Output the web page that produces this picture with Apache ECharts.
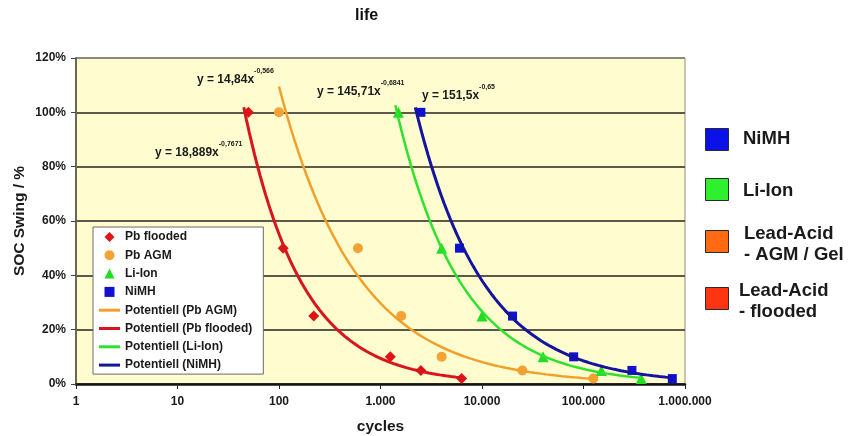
<!DOCTYPE html>
<html>
<head>
<meta charset="utf-8">
<script src="https://cdn.jsdelivr.net/npm/echarts@6/dist/echarts.min.js"></script>
<style>
  html, body { margin: 0; padding: 0; background: #ffffff; }
  #chart { width: 850px; height: 436px; }
</style>
</head>
<body>
<div id="chart"></div>
<script>
// Cycle life vs. depth of discharge (SOC swing) for four battery chemistries
const socSwing      = [1.00, 0.50, 0.25, 0.10, 0.05, 0.02];
const floodedCycles = [50, 110, 220, 1250, 2500, 6300];
const agmCycles     = [100, 600, 1600, 4000, 25000, 125000];
const liionCycles   = [1500, 4000, 10000, 40000, 150000, 370000];
const nimhCycles    = [2500, 6000, 20000, 80000, 300000, 750000];

// Power trend lines y = a * x^b, as printed on the chart
const trendNames = ['Potentiell (Pb flooded)', 'Potentiell (Pb AGM)', 'Potentiell (Li-Ion)', 'Potentiell (NiMH)'];
const trendA     = [18.889, 14.84, 145.71, 151.5];
const trendB     = [-0.7671, -0.566, -0.6841, -0.65];
const trendFrom  = [45, 100, 1400, 2200];
const trendTo    = [6300, 125000, 370000, 750000];
const trendLabels = ['y = 18,889x', 'y = 14,84x', 'y = 145,71x', 'y = 151,5x'];
const trendExps   = ['-0,7671', '-0,566', '-0,6841', '-0,65'];

const xTicks = [1, 10, 100, 1000, 10000, 100000, 1000000];

const FONT = '"Liberation Sans", Arial, sans-serif';
const colRed = '#D8141C', colOrange = '#F2A02C', colGreen = '#2EE22E', colBlue = '#14149E';

// Square-box legend glyphs so the markers keep their aspect in the legend
const ICON_DIAMOND = 'path://M5,0L10,5L5,10L0,5Z';
const ICON_CIRCLE  = 'path://M5,0A5,5,0,1,1,4.999,0Z';
const ICON_TRI     = 'path://M5,0L10,10L0,10Z';
const ICON_SQUARE  = 'path://M0,0H10V10H0Z';
const ICON_LINE    = 'path://M0,0H21V3H0Z';

function pairs(xs, ys) { return xs.map((x, i) => [x, ys[i]]); }

function trendData(i) {
  const pts = [];
  const n = 80;
  const l0 = Math.log10(trendFrom[i]), l1 = Math.log10(trendTo[i]);
  for (let k = 0; k <= n; k++) {
    const x = Math.pow(10, l0 + (l1 - l0) * k / n);
    pts.push([x, trendA[i] * Math.pow(x, trendB[i])]);
  }
  return pts;
}

function dotted(v) {
  return String(Math.round(v)).replace(/\B(?=(\d{3})+(?!\d))/g, '.');
}

const chart = echarts.init(document.getElementById('chart'), null, { renderer: 'canvas' });

const eqPos = [[155, 150], [197, 77], [317, 89], [422, 93]];
const eqGraphics = trendLabels.map((t, i) => ({
  type: 'text',
  left: eqPos[i][0],
  top: eqPos[i][1] - 9,
  z: 50,
  style: {
    text: '{m|' + t + '}{s|' + trendExps[i] + '}',
    rich: {
      m: { fontFamily: FONT, fontWeight: 'bold', fontSize: 12, fill: '#1a1a1a', lineHeight: 18, verticalAlign: 'bottom' },
      s: { fontFamily: FONT, fontWeight: 'bold', fontSize: 7, fill: '#1a1a1a', lineHeight: 18, verticalAlign: 'top' }
    }
  }
}));

// Chemistry key on the right-hand side
const keyItems = [
  { color: '#0A12E8', text: 'NiMH',                    box: 128, tx: 743, ty: 128 },
  { color: '#2EF02E', text: 'Li-Ion',                  box: 178, tx: 743, ty: 180 },
  { color: '#FF6A12', text: 'Lead-Acid\n- AGM / Gel',  box: 230, tx: 744, ty: 223 },
  { color: '#FF3412', text: 'Lead-Acid\n- flooded',    box: 287, tx: 739, ty: 280 }
];
const keyGraphics = [];
keyItems.forEach(k => {
  keyGraphics.push({
    type: 'rect', left: 705, top: k.box, z: 50,
    shape: { width: 23, height: 22 },
    style: { fill: k.color, stroke: '#2a2a2a', lineWidth: 1 }
  });
  keyGraphics.push({
    type: 'text', left: k.tx, top: k.ty, z: 50,
    style: { text: k.text, fontFamily: FONT, fontWeight: 'bold', fontSize: 18.5, lineHeight: 21, fill: '#1a1a1a' }
  });
});

const scatterBase = { type: 'scatter', z: 3 };
const series = [
  Object.assign({}, scatterBase, { name: 'Pb flooded', symbol: 'diamond', symbolSize: 11, itemStyle: { color: '#E01414', opacity: 1 }, data: pairs(floodedCycles, socSwing) }),
  Object.assign({}, scatterBase, { name: 'Pb AGM', symbol: 'circle', symbolSize: 10, itemStyle: { color: '#F5A234', opacity: 1 }, data: pairs(agmCycles, socSwing) }),
  Object.assign({}, scatterBase, { name: 'Li-Ion', symbol: 'triangle', symbolSize: 11, itemStyle: { color: '#22DD22', opacity: 1 }, data: pairs(liionCycles, socSwing) }),
  Object.assign({}, scatterBase, { name: 'NiMH', symbol: 'rect', symbolSize: 9, itemStyle: { color: '#1010D0', opacity: 1 }, data: pairs(nimhCycles, socSwing) })
];
const trendColors = [colRed, colOrange, colGreen, colBlue];
const trendWidths = [3, 2.5, 2.5, 3];
trendNames.forEach((nm, i) => {
  series.push({
    name: nm, type: 'line', symbol: 'none', smooth: false, z: 4,
    lineStyle: { color: trendColors[i], width: trendWidths[i] },
    itemStyle: { color: trendColors[i] },
    data: trendData(i)
  });
});

chart.setOption({
  animation: false,
  backgroundColor: '#ffffff',
  title: {
    text: 'life', left: 350, top: 3,
    textStyle: { fontFamily: FONT, fontWeight: 'bold', fontSize: 16, color: '#111' }
  },
  legend: {
    orient: 'vertical', left: 93, top: 227,
    padding: [4, 11, 3, 6],
    itemGap: 6.3,
    itemWidth: 21, itemHeight: 10,
    symbolKeepAspect: true,
    backgroundColor: '#ffffff', borderColor: '#6a6a6a', borderWidth: 1,
    selectedMode: false,
    textStyle: { fontFamily: FONT, fontWeight: 'bold', fontSize: 12, color: '#1a1a1a' },
    data: [
      { name: 'Pb flooded', icon: ICON_DIAMOND },
      { name: 'Pb AGM', icon: ICON_CIRCLE },
      { name: 'Li-Ion', icon: ICON_TRI },
      { name: 'NiMH', icon: ICON_SQUARE },
      { name: 'Potentiell (Pb AGM)', icon: ICON_LINE },
      { name: 'Potentiell (Pb flooded)', icon: ICON_LINE },
      { name: 'Potentiell (Li-Ion)', icon: ICON_LINE },
      { name: 'Potentiell (NiMH)', icon: ICON_LINE }
    ]
  },
  grid: {
    left: 76, right: 165, top: 58, bottom: 52,
    outerBoundsMode: 'none',
    show: true, backgroundColor: '#FFFDCF', borderColor: '#8d8a78', borderWidth: 1
  },
  xAxis: {
    type: 'log', logBase: 10, min: xTicks[0], max: xTicks[xTicks.length - 1], splitNumber: 6,
    name: 'cycles', nameLocation: 'middle', nameGap: 35, nameMoveOverlap: false,
    nameTextStyle: { fontFamily: FONT, fontWeight: 'bold', fontSize: 15.5, color: '#1a1a1a' },
    axisLine: { show: true, lineStyle: { color: '#141414', width: 2.5 } },
    axisTick: { show: true, inside: false, length: 5, lineStyle: { color: '#222', width: 1 } },
    axisLabel: { margin: 12, formatter: dotted, fontFamily: FONT, fontWeight: 'bold', fontSize: 12, color: '#1a1a1a' },
    splitLine: { show: false },
    minorTick: { show: false }
  },
  yAxis: {
    type: 'value', min: 0, max: 1.2, interval: 0.2,
    name: 'SOC Swing / %', nameLocation: 'middle', nameGap: 48, nameMoveOverlap: false,
    nameTextStyle: { fontFamily: FONT, fontWeight: 'bold', fontSize: 15.5, color: '#1a1a1a' },
    axisLine: { show: true, lineStyle: { color: '#6b6853', width: 2 } },
    axisTick: { show: true, inside: false, length: 5, lineStyle: { color: '#444', width: 1 } },
    axisLabel: { margin: 10, formatter: v => Math.round(v * 100) + '%', fontFamily: FONT, fontWeight: 'bold', fontSize: 12, color: '#1a1a1a' },
    splitLine: { show: true, lineStyle: { color: ['#5c594a', '#5c594a', '#5c594a', '#5c594a', '#5c594a', '#5c594a', '#8d8a78'], width: 2 } }
  },
  graphic: eqGraphics.concat(keyGraphics),
  series: series
});
</script>
</body>
</html>
